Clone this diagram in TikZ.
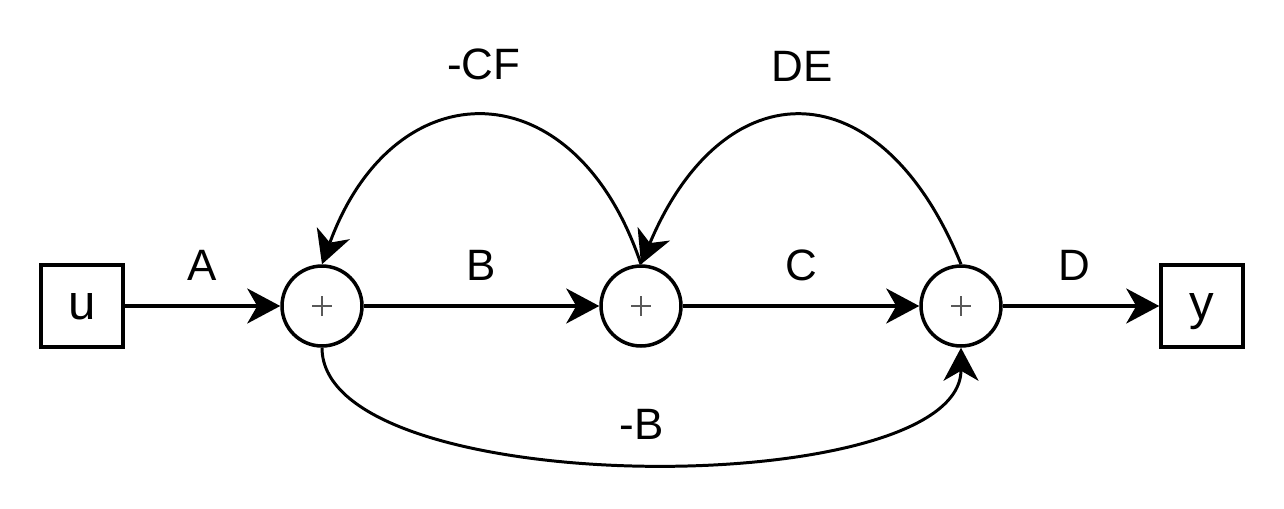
\documentclass[tikz,border=0pt]{standalone}
\usepackage{fontspec}
\setmainfont{Liberation Sans}
\usetikzlibrary{arrows.meta, positioning}

\begin{document}
\begin{tikzpicture}[
  x=0.02cm, y=-0.02cm,
  port/.style={
    rectangle, draw, line width=2pt,
    minimum size=1.64cm, inner sep=0pt,
    text depth=0pt,
    font=\fontsize{28}{32}\selectfont
  },
  sumnode/.style={
    circle, draw, line width=2pt,
    minimum size=1.6cm, inner sep=0pt,
    path picture={
      \draw[gray!70!black, line width=0.6pt]
        (path picture bounding box.center) +(-0.2cm,0) -- +(0.2cm,0)
        (path picture bounding box.center) +(0,-0.2cm) -- +(0,0.2cm);
    }
  },
  connarr/.style={
    -{Stealth[length=0.66cm, width=0.7cm, inset=0.2cm]}, line width=2pt
  },
  loopline/.style={line width=1.7pt},
  lbl/.style={font=\fontsize{25}{30}\selectfont}
]
\useasboundingbox (0,0) rectangle (1284,508);

\node[port]    (u)  at (82,306)   {u};
\node[sumnode] (s1) at (322,306)  {};
\node[sumnode] (s2) at (641,306)  {};
\node[sumnode] (s3) at (961,306)  {};
\node[port]    (y)  at (1202,306) {y};

% forward path
\draw[connarr] (u)  -- (s1) node[lbl, midway, yshift=0.82cm] {A};
\draw[connarr] (s1) -- (s2) node[lbl, midway, yshift=0.82cm] {B};
\draw[connarr] (s2) -- (s3) node[lbl, midway, yshift=0.82cm] {C};
\draw[connarr] (s3) -- (y)  node[lbl, midway, yshift=0.82cm, xshift=-0.14cm] {D};

% loops
\draw[connarr, loopline] (s2.north) .. controls (575,67) and (394,67) .. (s1.north)
  node[lbl, pos=0.5, yshift=1.04cm] {-CF};
\draw[connarr, loopline] (s3.north) .. controls (881,67) and (724,67) .. (s2.north)
  node[lbl, pos=0.5, yshift=1.0cm] {DE};
\draw[connarr, loopline] (s1.south) .. controls (322,502) and (961,502) .. (s3.south)
  node[lbl, pos=0.5, yshift=0.78cm] {-B};
\end{tikzpicture}
\end{document}
